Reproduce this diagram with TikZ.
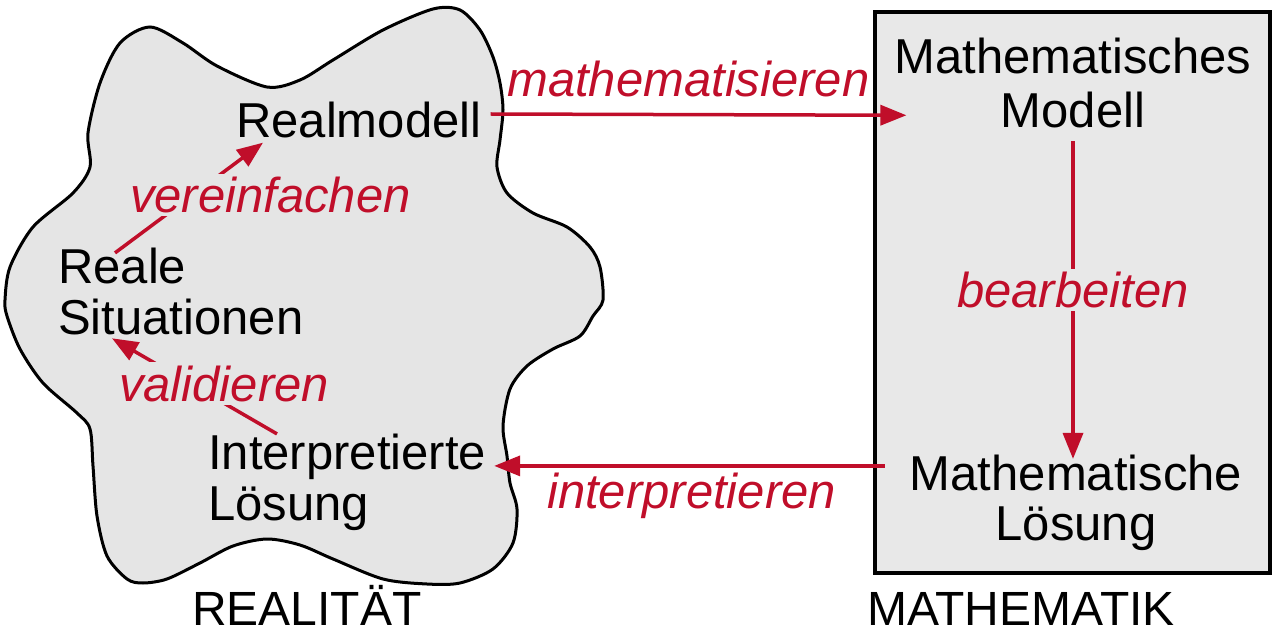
\documentclass[tikz,border=0pt]{standalone}
\usepackage{fontspec}
\setmainfont{Liberation Sans}
\usetikzlibrary{arrows.meta,calc}
\definecolor{tkred}{RGB}{192,14,42}
\definecolor{blobgray}{RGB}{229,229,229}
\definecolor{boxgray}{RGB}{232,232,232}
\begin{document}
\begin{tikzpicture}[x=1pt,y=-1pt,
  txt/.style={inner sep=0pt,font=\fontsize{49}{51}\selectfont,text=black},
  lbl/.style={inner sep=3pt,font=\fontsize{49}{51}\selectfont\itshape,text=tkred},
  arr/.style={draw=tkred,line width=3.5pt,-{Triangle[length=26pt,width=20pt]}}]
\useasboundingbox (0,0) rectangle (1280,636);
% reality blob
\draw[line width=3pt,fill=blobgray] plot[smooth cycle,tension=0.5] coordinates {
 (150,27) (183,43) (217,66) (267,87) (300,80) (333,60) (383,30) (433,9) (460,10)
 (480,30) (493,57) (500,83) (503,110) (500,140) (497,167) (507,193) (533,213)
 (567,227) (590,247) (600,267) (603,300) (593,316) (580,336) (553,349) (527,366)
 (510,389) (503,426) (507,456) (510,483) (517,509) (513,543) (493,569) (460,583)
 (427,584) (383,579) (333,559) (300,545) (267,539) (233,546) (200,563) (167,579)
 (143,583) (127,579) (107,556) (97,516) (93,466) (90,429) (77,413) (43,383)
 (20,349) (7,316) (5,300) (10,267) (33,227) (73,193) (90,167) (88,133) (100,83)
 (120,43)};
% mathematics box
\draw[line width=3.5pt,fill=boxgray] (875,12) rectangle (1270,573);
% texts
\node[txt,anchor=base west] (real) at (236,138) {Realmodell};
\node[txt,anchor=north west,align=left] (sit) at (58,247.9) {Reale\\Situationen};
\node[txt,anchor=north west,align=left] (interp) at (208,433.9) {Interpretierte\\Lösung};
\node[txt,anchor=north,align=center,font=\fontsize{49}{54}\selectfont] (mmod) at (1073,37.9) {Mathematisches\\Modell};
\node[txt,anchor=north,align=center,font=\fontsize{49}{50}\selectfont] (mlos) at (1076,454.9) {Mathematische\\Lösung};
\node[txt,anchor=base west,font=\fontsize{48}{50}\selectfont] (realitaet) at (192,625) {REALITÄT};
\node[txt,anchor=base west,font=\fontsize{48}{50}\selectfont] (mathematik) at (867,625) {MATHEMATIK};
% connectors
\draw[arr] ([xshift=57pt,yshift=-5pt]sit.north west) -- ([xshift=27pt,yshift=-4pt]real.south west);
\draw[arr] ([xshift=69pt]interp.north west) -- ([xshift=54pt,yshift=-3pt]sit.south west);
\draw[arr] ([xshift=9pt,yshift=24pt]real.base east) -- ([xshift=12pt,yshift=13pt]mmod.south west);
\draw[arr,shorten <=13pt,shorten >=-4pt] (mmod.south) -- (mmod.south |- mlos.north);
\draw[arr] ([xshift=-25pt,yshift=-11pt]mlos.north west) -- ([xshift=8pt,yshift=-32pt]interp.north east);
% labels
\node[lbl,anchor=base west,fill=blobgray] (lver) at (127,213) {vereinfachen};
\node[lbl,anchor=base west,fill=blobgray] (lval) at (116,401) {validieren};
\node[lbl,anchor=base west] (lmath) at (504,97) {mathematisieren};
\node[lbl,anchor=base,fill=boxgray] (lbear) at (1073,308) {bearbeiten};
\node[lbl,anchor=base west] (linter) at (544,508) {interpretieren};
\end{tikzpicture}
\end{document}
